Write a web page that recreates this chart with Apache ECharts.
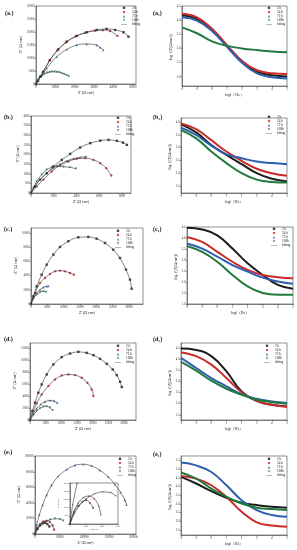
<!DOCTYPE html>
<html><head><meta charset="utf-8">
<script src="https://cdn.jsdelivr.net/npm/echarts@6/dist/echarts.min.js"></script>
<style>html,body{margin:0;padding:0;background:#fff}#c{width:297px;height:550px}</style>
</head><body><div id="c"></div>
<script>
// ================= DATA =================
const seriesNames = ['2 h', '24 h', '72 h', '168h'];
const fitName = 'fitting';
const legendNames = ['2 h', '24 h', '72 h', '168h', 'fitting'];

// ---- Nyquist (a) : [Z', -Z''] ----
const nyqA_2h = [[0,0],[1000,1300],[2200,2800],[3800,4700],[7200,9200],[11500,13300],[15900,16300],[21000,18500],[26200,19900],[31400,20800],[36500,21200],[40900,20800],[45200,19900],[47800,18200]];
const nyqA_24h = [[0,0],[1000,1250],[2300,2900],[3500,4500],[7000,9000],[11000,12900],[15500,16000],[20500,18300],[25500,19700],[30500,20500],[34500,20700],[38300,20400],[42100,18500]];
const nyqA_72h = [[0,0],[1200,1400],[2800,3200],[5500,6000],[10700,10500],[15900,13300],[21000,15000],[26200,15400],[31400,15000],[33100,14100],[34800,13100]];
const nyqA_168h = [[0,0],[500,800],[1000,1500],[1700,2200],[2500,2800],[3500,3400],[4500,3900],[5700,4300],[7000,4500],[8200,4700],[9500,4700],[10700,4600],[12000,4500],[13300,4200],[14500,3800],[15800,3400],[17000,2900]];
const nyqA_xTicks = [0,10000,20000,30000,40000,50000];
const nyqA_yTicks = [0,5000,10000,15000,20000,25000,30000];

// ---- Nyquist (b) ----
const nyqB_2h = [[0,0],[350,345],[790,690],[1380,1030],[1970,1380],[2710,1720],[3440,2030],[4320,2360],[5210,2590],[6090,2720],[6820,2760],[7560,2710],[8090,2620],[8440,2500]];
const nyqB_24h = [[0,0],[500,345],[1090,690],[1820,1120],[2560,1430],[3290,1640],[4030,1780],[4770,1810],[5500,1720],[6090,1550],[6620,1290],[7060,910]];
const nyqB_72h = [[0,0],[350,345],[790,690],[1380,1030],[1970,1290],[2560,1500],[3150,1670],[3740,1780],[4320,1850],[4850,1900]];
const nyqB_168h = [[0,0],[210,260],[500,600],[940,950],[1380,1210],[1820,1330],[2270,1380],[2850,1360],[3440,1330],[3970,1260]];
const nyqB_xTicks = [0,2000,4000,6000,8000];
const nyqB_yTicks = [0,500,1000,1500,2000,2500,3000,3500,4000];

// ---- Nyquist (c) ----
const nyqC_2h = [[0,0],[710,1080],[1740,2490],[3270,4130],[4800,5540],[6840,6950],[8880,8030],[11430,8830],[14490,9390],[17550,9440],[20100,9200],[22650,8590],[25200,7650],[27250,6480],[29080,4840],[30310,3430],[30820,2160]];
const nyqC_24h = [[0,0],[1220,1550],[2760,2960],[4290,3660],[5820,4230],[7350,4600],[8880,4700],[10410,4600],[11940,4370],[13160,4130]];
const nyqC_72h = [[0,0],[710,850],[1740,1550],[2760,2020],[3780,2350],[4800,2490],[5310,2540]];
const nyqC_168h = [[0,0],[710,750],[1740,1320],[2760,1640],[3780,1780],[4590,1690]];
const nyqC_xTicks = [0,5000,10000,15000,20000,25000,30000];
const nyqC_yTicks = [0,2000,4000,6000,8000,10000];

// ---- Nyquist (d) ----
const nyqD_2h = [[0,0],[745,1490],[1600,2870],[2660,4530],[3720,5910],[5320,7570],[7450,9230],[10110,10440],[12770,11050],[15430,11330],[18090,11160],[20210,10770],[22340,10170],[24470,9340],[26380,8400],[27660,7460],[28720,6350],[29260,5470]];
const nyqD_24h = [[0,0],[1060,1490],[2130,2760],[3720,4250],[5850,5640],[7980,6740],[10110,7400],[12230,7570],[14360,7460],[16490,7020],[18300,6190],[19680,5080],[20210,3980]];
const nyqD_72h = [[0,0],[1060,1050],[2130,1930],[3400,2600],[4790,3040],[6380,3260],[7660,3150],[8720,2870]];
const nyqD_168h = [[0,0],[1060,830],[2130,1490],[3190,1930],[4260,2210],[5320,2270],[6380,2040],[7230,1600]];
const nyqD_xTicks = [0,5000,10000,15000,20000,25000,30000];
const nyqD_yTicks = [0,2000,4000,6000,8000,10000,12000];

// ---- Nyquist (e) ----
const nyqE_2h = [[0,0],[4730,6810],[10140,11060],[15540,13620],[20270,14470],[25000,12770],[29050,9790]];
const nyqE_24h = [[0,0],[4730,7660],[10140,12770],[16890,16170],[23650,17020],[30410,15320],[35810,11060],[38510,5530]];
const nyqE_72h = [[0,0],[3380,11920],[8780,24680],[15540,37450],[23650,50210],[33780,62980],[47300,74470],[64190,82980],[81080,88510],[97970,89790],[114870,87660],[131760,82130],[148650,73620],[162160,63830],[173650,53620],[182430,43830],[185810,37450]];
const nyqE_168h = [[0,0],[4730,5530],[11490,11060],[20270,15320],[30410,18300],[40540,19570],[50680,19150],[57430,17020]];
const nyqE_xTicks = [0,50000,100000,150000,200000];
const nyqE_yTicks = [0,20000,40000,60000,80000,100000];
const insetE_xTicks = [0,20000,40000,60000];
const insetE_yTicks = [0,5000,10000,15000,20000,25000];

// ---- Bode : log|Z| at logf ----
const logf = [-2,-1,0,1,2,3,4,5];
const bodeA_2h  = [4.18,4.06,3.67,3.10,2.54,2.18,2.05,2.01];
const bodeA_24h = [4.24,4.11,3.71,3.12,2.56,2.23,2.12,2.10];
const bodeA_72h = [4.12,4.00,3.63,3.07,2.50,2.12,1.98,1.94];
const bodeA_168h= [3.76,3.55,3.26,3.10,3.01,2.95,2.90,2.87];
const bodeA_yTicks = [2.0,2.5,3.0,3.5,4.0,4.5];

const bodeB_2h  = [3.90,3.59,3.10,2.72,2.36,2.01,1.79,1.69];
const bodeB_24h = [3.94,3.72,3.29,2.85,2.49,2.18,2.01,1.91];
const bodeB_72h = [3.77,3.49,3.08,2.74,2.59,2.46,2.40,2.36];
const bodeB_168h= [3.68,3.36,2.85,2.40,2.01,1.76,1.67,1.65];
const bodeB_yTicks = [1.5,2.0,2.5,3.0,3.5,4.0];

const bodeC_2h  = [4.47,4.39,4.12,3.52,2.85,2.32,1.87,1.69];
const bodeC_24h = [4.05,3.82,3.37,2.92,2.55,2.32,2.22,2.17];
const bodeC_72h = [3.75,3.52,3.15,2.77,2.47,2.20,2.02,1.92];
const bodeC_168h= [3.64,3.37,2.92,2.32,1.80,1.50,1.42,1.42];
const bodeC_yTicks = [1.0,1.5,2.0,2.5,3.0,3.5,4.0,4.5];

const bodeD_2h  = [4.47,4.41,4.13,3.45,2.55,2.13,1.95,1.88];
const bodeD_24h = [4.31,4.13,3.75,3.15,2.51,2.13,1.95,1.86];
const bodeD_72h = [4.05,3.60,3.15,2.78,2.43,2.22,2.10,2.03];
const bodeD_168h= [3.87,3.48,3.03,2.67,2.40,2.18,2.07,2.00];
const bodeD_yTicks = [1.5,2.0,2.5,3.0,3.5,4.0,4.5];

const bodeE_2h  = [4.55,4.17,3.73,3.35,3.06,2.93,2.83,2.78];
const bodeE_24h = [4.60,4.45,4.07,3.40,2.55,1.94,1.75,1.69];
const bodeE_72h = [5.37,5.21,4.83,4.07,3.21,2.64,2.36,2.26];
const bodeE_168h= [4.80,4.45,3.88,3.40,3.02,2.78,2.70,2.64];
const bodeE_yTicks = [1.5,2.0,2.5,3.0,3.5,4.0,4.5,5.0,5.5];
const bode_xTicks = [-2,-1,0,1,2,3,4,5];

// ================= STYLE / LAYOUT =================
const COLORS = {'2 h':'#1c1c1c','24 h':'#c92b2b','72 h':'#2b5fae','168h':'#207a3d'};
const SYMBOLS = {'2 h':'path://M0,0L10,0L10,10L0,10Z','24 h':'circle','72 h':'path://M5,0L10,9L0,9Z','168h':'path://M0,0L10,0L5,9Z'};
const FIT_COLOR = '#333';
const SERIF = '"Liberation Serif","Times New Roman",serif';

const nyqPanels = [
  {sets:[nyqA_2h,nyqA_24h,nyqA_72h,nyqA_168h], x:[0,51700], y:[0,30000], xt:nyqA_xTicks, yt:nyqA_yTicks,
   grid:{left:36,top:6,width:100,height:78}, legend:{left:121,top:6}, label:'(a.)', lp:[5,10]},
  {sets:[nyqB_2h,nyqB_24h,nyqB_72h,nyqB_168h], x:[0,8800], y:[0,4000], xt:nyqB_xTicks, yt:nyqB_yTicks,
   grid:{left:31,top:116,width:100,height:77}, legend:{left:115,top:116}, label:'(b.)', lp:[4,114]},
  {sets:[nyqC_2h,nyqC_24h,nyqC_72h,nyqC_168h], x:[0,34300], y:[0,10700], xt:nyqC_xTicks, yt:nyqC_yTicks,
   grid:{left:31,top:228,width:112,height:76}, legend:{left:115,top:229}, label:'(c.)', lp:[4,226]},
  {sets:[nyqD_2h,nyqD_24h,nyqD_72h,nyqD_168h], x:[0,33800], y:[0,12800], xt:nyqD_xTicks, yt:nyqD_yTicks,
   grid:{left:30,top:343,width:106,height:77}, legend:{left:115,top:344}, label:'(d.)', lp:[4,336]},
  {sets:[nyqE_2h,nyqE_24h,nyqE_72h,nyqE_168h], x:[0,205000], y:[0,100400], xt:nyqE_xTicks, yt:nyqE_yTicks,
   grid:{left:35,top:456,width:101,height:78}, legend:{left:117,top:457}, label:'(e.)', lp:[4,449]}
];
const bodePanels = [
  {sets:[bodeA_2h,bodeA_24h,bodeA_72h,bodeA_168h], y:[1.67,4.52], yt:bodeA_yTicks,
   grid:{left:182,top:6,width:105,height:80}, legend:{left:266,top:6}, label:'(a\u2081)', lp:[153,10]},
  {sets:[bodeB_2h,bodeB_24h,bodeB_72h,bodeB_168h], y:[1.24,4.15], yt:bodeB_yTicks,
   grid:{left:181,top:118,width:106,height:75}, legend:{left:266,top:115}, label:'(b\u2081)', lp:[153,114]},
  {sets:[bodeC_2h,bodeC_24h,bodeC_72h,bodeC_168h], y:[1.0,4.5], yt:bodeC_yTicks,
   grid:{left:187,top:227,width:106,height:77}, legend:{left:271,top:227}, label:'(c\u2081)', lp:[153,226]},
  {sets:[bodeD_2h,bodeD_24h,bodeD_72h,bodeD_168h], y:[1.27,4.72], yt:bodeD_yTicks,
   grid:{left:181,top:343,width:106,height:77}, legend:{left:264,top:344}, label:'(d\u2081)', lp:[153,336]},
  {sets:[bodeE_2h,bodeE_24h,bodeE_72h,bodeE_168h], y:[1.21,5.75], yt:bodeE_yTicks,
   grid:{left:181,top:456,width:106,height:79}, legend:{left:266,top:457}, label:'(e\u2081)', lp:[153,451]}
];
const insetGrid = {left:70,top:483,width:48,height:41};

// ================= BUILD =================
const grids = [], xAxes = [], yAxes = [], series = [], legends = [], graphics = [];
const axisBase = (min, max, ticks, fmt, fs) => ({
  type:'value', min:min, max:max, splitLine:{show:false},
  axisLine:{show:true, onZero:false, lineStyle:{color:'#444', width:0.6}},
  axisTick:{show:true, customValues:ticks, length:1.5, lineStyle:{color:'#444', width:0.5}},
  axisLabel:{customValues:ticks, fontSize:fs, margin:1.5, color:'#333', formatter:fmt, fontFamily:SERIF},
  nameTextStyle:{fontSize:3.8, color:'#222', fontFamily:SERIF}
});
const intFmt = v => String(Math.round(v));
const decFmt = v => v.toFixed(1);

function addGrid(g){
  grids.push(Object.assign({show:true, borderColor:'#444', borderWidth:0.6, backgroundColor:'transparent'}, g));
  return grids.length - 1;
}
const legendData = legendNames.map(nm => nm === fitName
  ? {name:nm, icon:'path://M0,0L24,0L24,1.4L0,1.4Z', itemStyle:{color:FIT_COLOR}}
  : {name:nm, icon:SYMBOLS[nm] === 'circle' ? 'path://M5,0A5,5,0,1,1,4.99,0Z' : SYMBOLS[nm], itemStyle:{color:COLORS[nm]}});
function addLegend(pos){
  legends.push({left:pos.left, top:pos.top, orient:'vertical', padding:0, itemGap:0.6,
    itemWidth:6, itemHeight:2.4, selectedMode:false, symbolKeepAspect:true, data:legendData,
    textStyle:{fontSize:3.4, lineHeight:3.6, color:'#222', fontFamily:SERIF}});
}
function addLabel(text, lp){
  graphics.push({type:'text', left:lp[0], top:lp[1], style:{text:text, font:'bold 6px ' + SERIF, fill:'#111'}});
}
function addNyqSeries(gi, sets, symSize){
  sets.forEach((d, k) => {
    const nm = seriesNames[k];
    series.push({type:'scatter', name:nm, xAxisIndex:gi, yAxisIndex:gi, data:d,
      symbol:SYMBOLS[nm], symbolSize:symSize, itemStyle:{color:COLORS[nm]}, z:3, silent:true});
  });
  sets.forEach((d) => {
    series.push({type:'line', name:fitName, xAxisIndex:gi, yAxisIndex:gi, data:d, smooth:0.35,
      symbol:'none', itemStyle:{color:FIT_COLOR}, lineStyle:{color:FIT_COLOR, width:0.6}, z:4, silent:true});
  });
}

nyqPanels.forEach(p => {
  const gi = addGrid(p.grid);
  xAxes.push(Object.assign(axisBase(p.x[0], p.x[1], p.xt, intFmt, 3), {gridIndex:gi,
    name:"Z' (\u03A9 cm\u00B2)", nameLocation:'middle', nameGap:7}));
  yAxes.push(Object.assign(axisBase(p.y[0], p.y[1], p.yt, intFmt, 3), {gridIndex:gi,
    name:"-Z'' (\u03A9 cm\u00B2)", nameLocation:'middle', nameGap:10}));
  addNyqSeries(gi, p.sets, 2.4);
  addLegend(p.legend);
  addLabel(p.label, p.lp);
});

bodePanels.forEach(p => {
  const gi = addGrid(p.grid);
  xAxes.push(Object.assign(axisBase(-2, 5, bode_xTicks, intFmt, 3), {gridIndex:gi,
    name:'logf\uFF08Hz\uFF09', nameLocation:'middle', nameGap:7}));
  yAxes.push(Object.assign(axisBase(p.y[0], p.y[1], p.yt, decFmt, 3), {gridIndex:gi,
    name:'log\uFF08|Z|(\u03A9cm\u00B2)\uFF09', nameLocation:'middle', nameGap:8}));
  p.sets.forEach((vals, k) => {
    const nm = seriesNames[k];
    series.push({type:'line', name:nm, xAxisIndex:gi, yAxisIndex:gi,
      data:logf.map((x, i) => [x, vals[i]]), smooth:0.45,
      symbol:'none', itemStyle:{color:COLORS[nm]}, lineStyle:{color:COLORS[nm], width:2}, z:3, silent:true});
  });
  addLegend(p.legend);
  addLabel(p.label, p.lp);
});

// inset of panel (e)
{
  const gi = addGrid(insetGrid);
  xAxes.push(Object.assign(axisBase(0, 60000, insetE_xTicks, intFmt, 2), {gridIndex:gi,
    name:"Z' (\u03A9 cm\u00B2)", nameLocation:'middle', nameGap:4, nameTextStyle:{fontSize:2.2, fontFamily:SERIF}}));
  yAxes.push(Object.assign(axisBase(0, 25000, insetE_yTicks, intFmt, 2), {gridIndex:gi,
    name:"-Z'' (\u03A9 cm\u00B2)", nameLocation:'middle', nameGap:7, nameTextStyle:{fontSize:2.2, fontFamily:SERIF}}));
  addNyqSeries(gi, [nyqE_2h, nyqE_24h, nyqE_72h, nyqE_168h], 1.6);
}

const chart = echarts.init(document.getElementById('c'), null, {renderer:'canvas'});
chart.setOption({
  backgroundColor:'#fff', animation:false,
  grid:grids, xAxis:xAxes, yAxis:yAxes, series:series, legend:legends, graphic:graphics
});
</script>
</body></html>
